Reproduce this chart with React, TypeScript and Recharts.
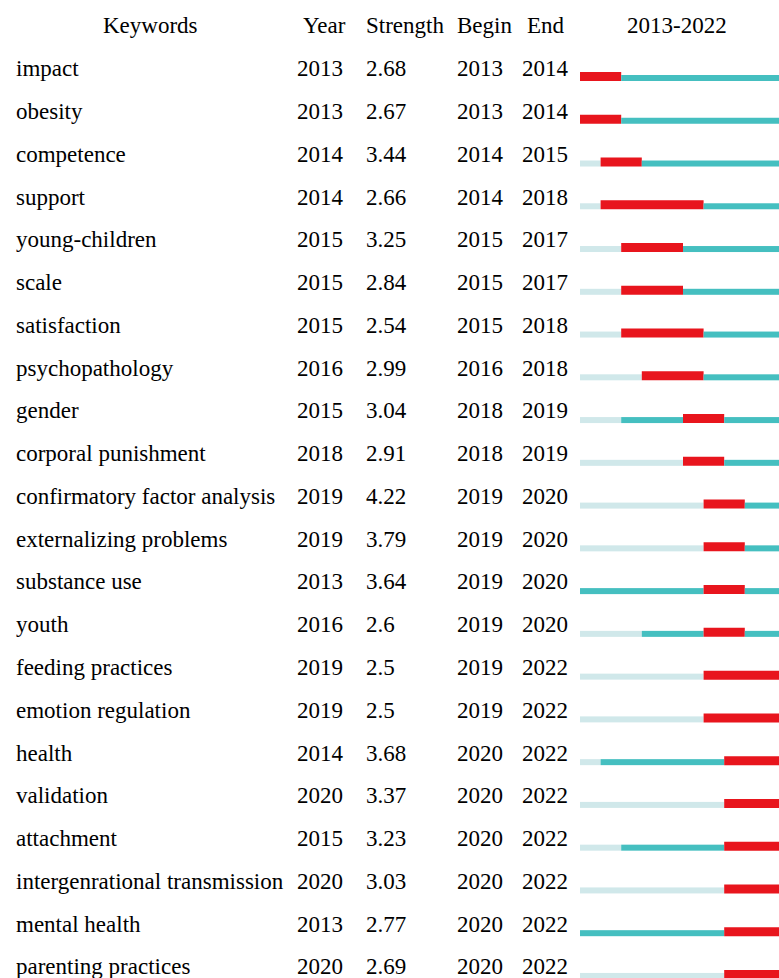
import { BarChart, Bar, XAxis, YAxis } from 'recharts';

const keywords = [
  'impact', 'obesity', 'competence', 'support', 'young-children', 'scale', 'satisfaction',
  'psychopathology', 'gender', 'corporal punishment', 'confirmatory factor analysis',
  'externalizing problems', 'substance use', 'youth', 'feeding practices', 'emotion regulation',
  'health', 'validation', 'attachment', 'intergenrational transmission', 'mental health',
  'parenting practices',
];
const years = [2013, 2013, 2014, 2014, 2015, 2015, 2015, 2016, 2015, 2018, 2019, 2019, 2013, 2016, 2019, 2019, 2014, 2020, 2015, 2020, 2013, 2020];
const strengths = [2.68, 2.67, 3.44, 2.66, 3.25, 2.84, 2.54, 2.99, 3.04, 2.91, 4.22, 3.79, 3.64, 2.6, 2.5, 2.5, 3.68, 3.37, 3.23, 3.03, 2.77, 2.69];
const begins = [2013, 2013, 2014, 2014, 2015, 2015, 2015, 2016, 2018, 2018, 2019, 2019, 2019, 2019, 2019, 2019, 2020, 2020, 2020, 2020, 2020, 2020];
const ends = [2014, 2014, 2015, 2018, 2017, 2017, 2018, 2018, 2019, 2019, 2020, 2020, 2020, 2020, 2022, 2022, 2022, 2022, 2022, 2022, 2022, 2022];

const FIRST = 2013;
const LAST = 2022;

const RED = '#e8151d';
const TEAL = '#45bfc0';
const LIGHT = '#d0e8ea';
const FONT = '"Liberation Serif", "Times New Roman", serif';
const FS = 23;

const data = keywords.map((k, i) => ({
  keyword: k,
  pre: years[i] - FIRST,
  mid: begins[i] - years[i],
  burst: ends[i] - begins[i] + 1,
  post: LAST - ends[i],
}));

// thin segments sit on the bottom edge of the thicker red burst bar
const thin = (fill: string) => (p: any) => {
  if (!p.width || p.width <= 0) return <g />;
  return <rect x={p.x} y={p.y + p.height - 6} width={p.width} height={6} fill={fill} />;
};

const RowTick = (props: any) => {
  const { y, payload } = props;
  const i = keywords.indexOf(payload.value);
  return (
    <g fontFamily={FONT} fontSize={FS} fill="#000">
      <text x={16} y={y}>{payload.value}</text>
      <text x={297} y={y}>{years[i]}</text>
      <text x={366} y={y}>{String(strengths[i])}</text>
      <text x={457} y={y}>{begins[i]}</text>
      <text x={522} y={y}>{ends[i]}</text>
    </g>
  );
};

const headers = [
  { label: 'Keywords', x: 103 },
  { label: 'Year', x: 303 },
  { label: 'Strength', x: 366 },
  { label: 'Begin', x: 457 },
  { label: 'End', x: 527 },
  { label: `${FIRST}-${LAST}`, x: 627 },
];

export default function App() {
  return (
    <div style={{ position: 'absolute', left: 0, top: 0, width: 779, height: 978, overflow: 'hidden', background: '#fff' }}>
      <svg width={779} height={50} style={{ position: 'absolute', left: 0, top: 0 }}>
        {headers.map((h) => (
          <text key={h.label} x={h.x} y={33} fontFamily={FONT} fontSize={FS} fill="#000">
            {h.label}
          </text>
        ))}
      </svg>
      <div style={{ position: 'absolute', left: 0, top: 0 }}>
        <BarChart
          width={790}
          height={1000}
          data={data}
          layout="vertical"
          barSize={9}
          margin={{ top: 55, right: 4, bottom: 4.3, left: 0 }}
        >
          <XAxis type="number" domain={[0, LAST - FIRST + 1]} hide />
          <YAxis
            type="category"
            dataKey="keyword"
            width={580}
            axisLine={false}
            tickLine={false}
            interval={0}
            tick={<RowTick />}
          />
          <Bar dataKey="pre" stackId="a" fill={LIGHT} shape={thin(LIGHT)} isAnimationActive={false} />
          <Bar dataKey="mid" stackId="a" fill={TEAL} shape={thin(TEAL)} isAnimationActive={false} />
          <Bar dataKey="burst" stackId="a" fill={RED} isAnimationActive={false} />
          <Bar dataKey="post" stackId="a" fill={TEAL} shape={thin(TEAL)} isAnimationActive={false} />
        </BarChart>
      </div>
    </div>
  );
}
